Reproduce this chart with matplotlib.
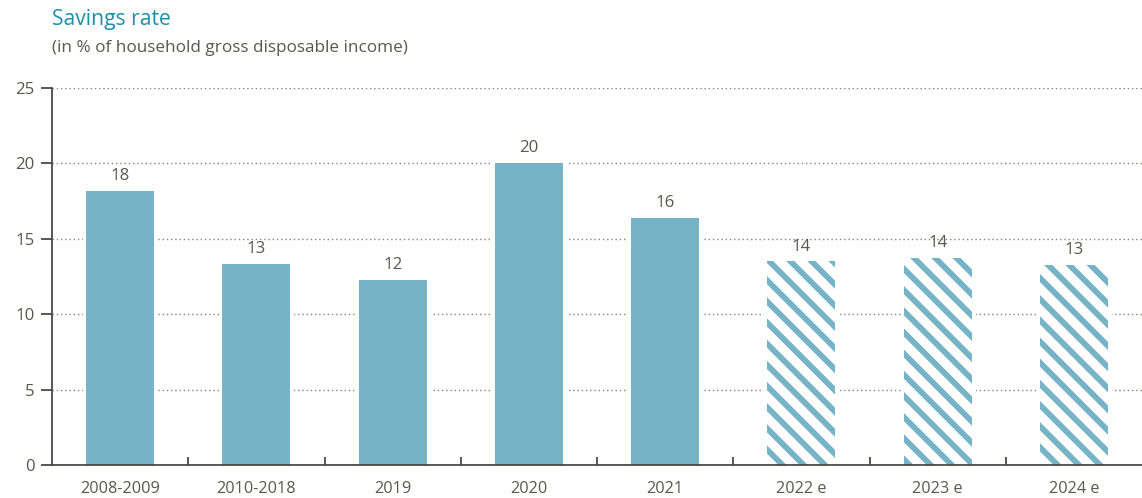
import matplotlib
matplotlib.use("Agg")
import matplotlib.pyplot as plt
from matplotlib.ticker import FixedLocator

categories = ["2008-2009", "2010-2018", "2019", "2020", "2021", "2022 e", "2023 e", "2024 e"]
values = [18.2, 13.35, 12.3, 20.05, 16.4, 13.5, 13.75, 13.25]
labels = ["18", "13", "12", "20", "16", "14", "14", "13"]
estimate = [False, False, False, False, False, True, True, True]
yticks = [0, 5, 10, 15, 20, 25]

BAR = "#76b3c7"
TXT = "#5b5650"
SPINE = "#4a4540"
TITLE = "#1b8fa9"

DPI = 127
plt.rcParams['font.family'] = ['Open Sans', 'DejaVu Sans']
plt.rcParams['hatch.linewidth'] = 3.3

fig = plt.figure(figsize=(1142 / DPI, 498 / DPI), dpi=DPI)
ax = fig.add_axes([52 / 1142, 1 - 465 / 498, 1 - 52 / 1142, (465 - 88) / 498])

x = list(range(len(categories)))
# white halo behind bars so the dotted grid stops short of them
ax.bar(x, values, width=0.5, color="white", edgecolor="white", linewidth=4, zorder=1.5)
for i, (v, est) in enumerate(zip(values, estimate)):
    if est:
        ax.bar(i, v, width=0.5, facecolor="white", edgecolor=BAR, hatch="\\\\", linewidth=0, zorder=2)
    else:
        ax.bar(i, v, width=0.5, color=BAR, linewidth=0, zorder=2)
    ax.text(i, v + 0.45, labels[i], ha="center", va="bottom", fontsize=9.5, color=TXT, zorder=3)

ax.set_xlim(-0.5, len(categories) - 0.5)
ax.set_ylim(0, 25)
ax.set_yticks(yticks)
ax.set_yticklabels([str(t) for t in yticks])
ax.set_xticks(x)
ax.set_xticklabels(categories)
ax.xaxis.set_minor_locator(FixedLocator([i + 0.5 for i in range(len(categories) - 1)]))

ax.tick_params(axis="x", which="major", length=0, pad=9, labelsize=9.2, labelcolor=TXT)
ax.tick_params(axis="x", which="minor", length=4.5, direction="in", width=1.0, color=SPINE)
ax.tick_params(axis="y", which="major", length=6, direction="out", width=1.0, color=SPINE,
               pad=4, labelsize=9.5, labelcolor=TXT)

for s in ["top", "right"]:
    ax.spines[s].set_visible(False)
for s in ["left", "bottom"]:
    ax.spines[s].set_color(SPINE)
    ax.spines[s].set_linewidth(1.0)
    ax.spines[s].set_zorder(4)

for t in yticks[1:]:
    ax.axhline(t, color="#8a8580", linestyle=(0, (1, 2)), linewidth=0.8, zorder=1)

fig.text(52 / 1142, 1 - 20 / 498, "Savings rate", fontsize=12, color=TITLE, ha="left", va="center")
fig.text(52 / 1142, 1 - 48 / 498, "(in % of household gross disposable income)", fontsize=9.7,
         color=TXT, ha="left", va="center")

fig.savefig("out.png", dpi=DPI)
